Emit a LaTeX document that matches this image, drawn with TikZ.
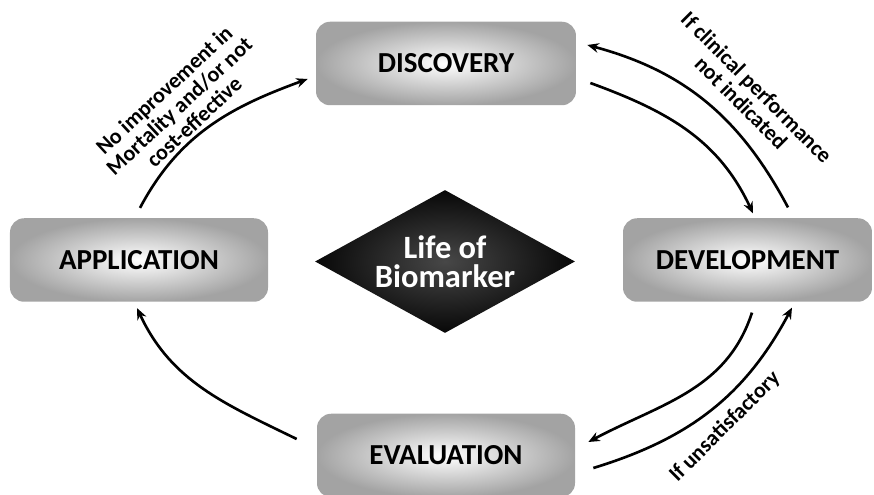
\documentclass[tikz,border=0pt]{standalone}
\usepackage{fontspec}
\setmainfont{Carlito}
\usepackage{tikz}
\usetikzlibrary{shapes,arrows.meta,positioning,shadings}

\begin{document}
\begin{tikzpicture}[
    stage/.style={rectangle, rounded corners=8pt, shading=radial, inner color=white, outer color=black!36, minimum height=1.67cm, font=\fontsize{16.5}{18}\selectfont\bfseries},
    hub/.style={diamond, shading=radial, inner color=black!72, outer color=black!97, minimum width=5.2cm, minimum height=2.86cm, inner sep=0pt, aspect=1.8, text=white, align=center, font=\fontsize{18.5}{16.5}\selectfont\bfseries},
    flow/.style={-{Stealth[length=6.5pt, width=5.5pt]}, line width=1.5pt, black},
    note/.style={align=center, font=\fontsize{12.5}{12.5}\selectfont\bfseries}
]

\useasboundingbox (0,0) rectangle (17.48,9.9);

% Stages
\node[stage, minimum width=5.2cm] (disc) at (8.92, 8.63) {DISCOVERY};
\node[stage, minimum width=5.16cm] (app) at (2.78, 4.70) {APPLICATION};
\node[stage, minimum width=4.98cm] (dev) at (14.95, 4.70) {DEVELOPMENT};
\node[stage, minimum width=5.16cm] (eval) at (8.92, 0.79) {EVALUATION};

% Center
\node[hub] (bio) at (8.90, 4.67) {Life of\\Biomarker};

% Cycle arrows
\draw[flow] ([xshift=0.02cm, yshift=0.2cm]app.north) to[out=62, in=200] ([xshift=-0.16cm, yshift=-0.31cm]disc.west);
\draw[flow] ([xshift=0.28cm, yshift=-0.39cm]disc.east) to[out=-20, in=115] ([xshift=0.11cm, yshift=0.09cm]dev.north);
\draw[flow] ([xshift=0.81cm, yshift=0.21cm]dev.north) to[out=118, in=-15] ([xshift=0.22cm, yshift=0.37cm]disc.east);
\draw[flow] ([xshift=0.09cm, yshift=-0.21cm]dev.south) to[out=-108, in=28] ([xshift=0.26cm, yshift=0.27cm]eval.east);
\draw[flow] ([xshift=0.36cm, yshift=-0.25cm]eval.east) to[out=17, in=-118] ([xshift=0.89cm, yshift=-0.11cm]dev.south);
\draw[flow] ([xshift=-0.4cm, yshift=0.33cm]eval.west) to[out=154, in=-65] ([xshift=-0.04cm, yshift=-0.12cm]app.south);

% Feedback labels
\node[note, rotate=43] (noimp) at (3.58, 7.78) {No improvement in\\Mortality and/or not\\cost-effective};
\node[note, rotate=-45] (noclin) at (14.98, 8.0) {If clinical performance\\not indicated};
\node[note, rotate=45] (unsat) at (14.5, 1.36) {If unsatisfactory};

\end{tikzpicture}
\end{document}
